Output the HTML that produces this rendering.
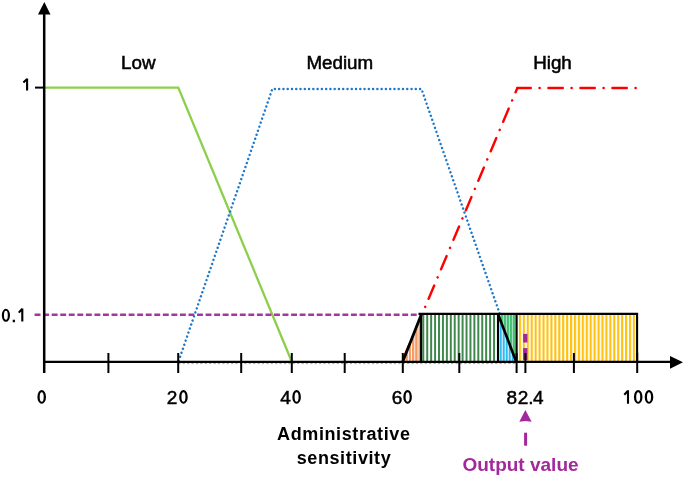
<!DOCTYPE html>
<html><head><meta charset="utf-8">
<style>
html,body{margin:0;padding:0;background:#fff;}
body{width:685px;height:477px;overflow:hidden;}
svg{display:block;will-change:transform;}
text{font-family:"Liberation Sans",sans-serif;}
</style></head>
<body>
<svg width="685" height="477" viewBox="0 0 685 477">
<defs>
  <pattern id="pDG" patternUnits="userSpaceOnUse" x="422.3" y="0" width="3.93" height="20"><rect x="0" y="0" width="2" height="20" fill="#3f874c"/></pattern>
  <pattern id="pOR" patternUnits="userSpaceOnUse" x="412" y="0" width="3.25" height="20"><rect x="0" y="0" width="2.3" height="20" fill="#f39a62"/></pattern>
  <pattern id="pLG" patternUnits="userSpaceOnUse" x="500.9" y="0" width="3.0" height="20"><rect x="0" y="0" width="3" height="20" fill="#bfe8cf"/><rect x="0" y="0" width="2.1" height="20" fill="#3fc072"/></pattern>
  <pattern id="pLB" patternUnits="userSpaceOnUse" x="500" y="0" width="3.0" height="20"><rect x="0" y="0" width="3" height="20" fill="#bde6fa"/><rect x="0" y="0" width="1.6" height="20" fill="#2cbbf1"/></pattern>
  <pattern id="pYE" patternUnits="userSpaceOnUse" x="518.9" y="0" width="3.93" height="20"><rect x="0" y="0" width="2.2" height="20" fill="#ffc214"/></pattern>
</defs>

<!-- low (green) -->
<path d="M44,87.6 L178.3,87.6 L291.5,361" fill="none" stroke="#8dcf4b" stroke-width="2.3"/>

<!-- high (red dash-dot) -->
<path d="M402,362 L517.4,88" fill="none" stroke="#ff0000" stroke-width="2.4" stroke-linecap="round" stroke-dasharray="14.4 8.7 0.2 8.7" stroke-dashoffset="-4.6"/>
<path d="M517.4,88 L636.5,88" fill="none" stroke="#ff0000" stroke-width="2.4" stroke-linecap="round" stroke-dasharray="14.4 8.7 0.2 8.7" stroke-dashoffset="1.0"/>

<!-- magenta dashed 0.1 -->
<path d="M34.6,314.8 L418,314.8" fill="none" stroke="#a535a0" stroke-width="2.6" stroke-dasharray="5.9 2.65"/>

<!-- medium (blue dotted) -->
<g fill="none" stroke="#1f78ca" stroke-width="2.4" stroke-linecap="round" stroke-dasharray="0.1 4.17">
  <path d="M178.3,362 L272.3,89" stroke-dashoffset="-1.18"/>
  <path d="M272.3,89 L421.5,89" stroke-dashoffset="-2.55"/>
  <path d="M421.5,89 L516.5,362" stroke-dashoffset="-2.67"/>
</g>
<path d="M178.3,363.6 L516.5,363.6" fill="none" stroke="#3a6890" stroke-width="1" stroke-dasharray="2.2 2.2" opacity="0.55"/>

<!-- filled aggregated region -->
<polygon points="421.5,314 637.1,314 637.1,362 421.5,362" fill="#fff"/>
<polygon points="403.4,362 421.5,316 421.5,362" fill="#fff"/>
<polygon points="402.4,362 421.2,314 421.2,362" fill="url(#pOR)"/>
<rect x="421.5" y="314" width="76.5" height="48" fill="url(#pDG)"/>
<polygon points="498,314 517,314 517,362 516.5,362" fill="url(#pLG)"/>
<polygon points="498,314 498,362 516.5,362" fill="url(#pLB)"/>
<rect x="517" y="314" width="120" height="48" fill="url(#pYE)"/>

<!-- black outlines of aggregated region -->
<g stroke="#000" stroke-width="2.1" fill="none">
  <path d="M418.5,313.9 L637.1,313.9 L637.1,362"/>
  <path d="M402.6,362 L421.3,314.5" stroke-width="2.8"/>
  <path d="M421.1,314 L421.1,362"/>
  <path d="M498,314 L498,362"/>
  <path d="M498,314 L516.3,362" stroke-width="2.6"/>
  <path d="M516.6,314 L516.6,362"/>
</g>

<!-- magenta output dashes in region -->
<rect x="523.1" y="333.9" width="4.3" height="8.6" fill="#a2289b"/>
<rect x="523.1" y="348.1" width="4.3" height="12" fill="#a2289b"/>

<!-- axes -->
<g stroke="#000" fill="none">
  <path d="M44.2,14 L44.2,373" stroke-width="2.5"/>
  <path d="M43,361.8 L671,361.8" stroke-width="2.3"/>
  <path d="M35,87.6 L44,87.6" stroke-width="2"/>
  <g stroke-width="2">
    <path d="M108.4,353 V373"/><path d="M178.2,353 V373"/><path d="M241.2,353 V373"/>
    <path d="M291.8,353 V373"/><path d="M344.7,353 V373"/><path d="M402.8,353 V373"/>
    <path d="M459.3,353 V373"/><path d="M516.6,353 V373"/><path d="M525.4,353 V373"/>
    <path d="M573.9,353 V373"/><path d="M637.2,353 V373"/>
  </g>
</g>
<polygon points="44.3,2 38,14.4 50.5,14.4" fill="#000"/>
<polygon points="683,362.3 670,356 670,368.8" fill="#000"/>

<!-- output arrow -->
<polygon points="525.4,410 519.3,421.8 525.4,421 531.6,421.8" fill="#a2289b"/>
<rect x="524.1" y="432.7" width="3" height="13" fill="#a2289b"/>

<!-- labels -->
<g font-size="18.8" fill="#000" stroke="#000" stroke-width="0.55">
  <text x="121" y="68.6">Low</text>
  <text x="306.4" y="68.7">Medium</text>
  <text x="533.2" y="68.7">High</text>
</g>
<g font-size="19" fill="#000" stroke="#000" stroke-width="0.5" text-anchor="middle">
  <text x="14" y="321.8">.</text>
  <text x="171.95" y="403.8">2</text>
  <text x="285.5" y="403.8">4</text>
  <text x="397" y="403.8">6</text>
  <text x="511.85" y="403.8">8</text>
  <text x="523.15" y="403.8">2</text>
  <text x="531" y="403.8">.</text>
  <text x="538.3" y="403.8">4</text>
</g>
<path fill="#000" fill-rule="evenodd" d="M37.40,396.95 a4.3,6.85 0 1,0 8.6,0 a4.3,6.85 0 1,0 -8.6,0 Z M39.70,396.95 a2.0,4.75 0 1,0 4.0,0 a2.0,4.75 0 1,0 -4.0,0 Z M179.15,396.95 a4.3,6.85 0 1,0 8.6,0 a4.3,6.85 0 1,0 -8.6,0 Z M181.45,396.95 a2.0,4.75 0 1,0 4.0,0 a2.0,4.75 0 1,0 -4.0,0 Z M292.30,396.95 a4.3,6.85 0 1,0 8.6,0 a4.3,6.85 0 1,0 -8.6,0 Z M294.60,396.95 a2.0,4.75 0 1,0 4.0,0 a2.0,4.75 0 1,0 -4.0,0 Z M403.30,396.95 a4.3,6.85 0 1,0 8.6,0 a4.3,6.85 0 1,0 -8.6,0 Z M405.60,396.95 a2.0,4.75 0 1,0 4.0,0 a2.0,4.75 0 1,0 -4.0,0 Z M633.90,396.95 a4.3,6.85 0 1,0 8.6,0 a4.3,6.85 0 1,0 -8.6,0 Z M636.20,396.95 a2.0,4.75 0 1,0 4.0,0 a2.0,4.75 0 1,0 -4.0,0 Z M644.70,396.95 a4.3,6.85 0 1,0 8.6,0 a4.3,6.85 0 1,0 -8.6,0 Z M647.00,396.95 a2.0,4.75 0 1,0 4.0,0 a2.0,4.75 0 1,0 -4.0,0 Z M1.80,315.35 a4.1,6.5 0 1,0 8.2,0 a4.1,6.5 0 1,0 -8.2,0 Z M4.00,315.35 a1.9,4.5 0 1,0 3.8,0 a1.9,4.5 0 1,0 -3.8,0 Z"/>
<g fill="none" stroke="#000" stroke-width="2.1" stroke-linejoin="round">
  <path d="M27.1,78.6 V90.4 M27.1,79 L23.4,82.4"/>
  <path d="M22.3,308.4 V321.6 M22.3,308.8 L18.8,312.6"/>
  <path d="M628,390.3 V403.8 M628,390.7 L624.3,394.7"/>
</g>
<g font-size="18" font-weight="bold" fill="#000" text-anchor="middle" letter-spacing="0.6">
  <text x="343.8" y="440.2">Administrative</text>
  <text x="344" y="463.5">sensitivity</text>
</g>
<text x="520.5" y="470.6" font-size="19" font-weight="bold" fill="#a2289b" text-anchor="middle">Output value</text>
</svg>
</body></html>
